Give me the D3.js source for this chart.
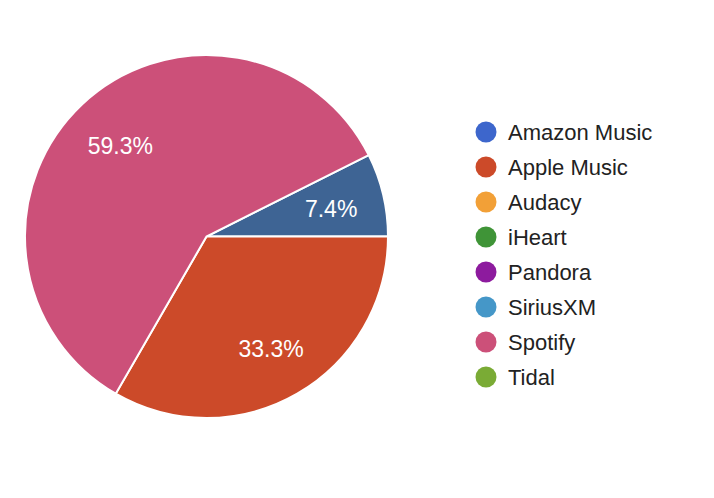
<!DOCTYPE html>
<html>
<head>
<meta charset="utf-8">
<script src="https://cdn.jsdelivr.net/npm/d3@7"></script>
<style>
  body { margin: 0; background: #fff; }
  text { font-family: "Liberation Sans", Arial, sans-serif; }
</style>
</head>
<body>
<div class="graph"></div>
<script>
// legend entries and their colours
const services = ["Amazon Music", "Apple Music", "Audacy", "iHeart", "Pandora", "SiriusXM", "Spotify", "Tidal"];
const legendColors = ["#3d66cc", "#cc4a29", "#f2a037", "#3f9437", "#8d1b9e", "#4597c8", "#cc5079", "#7aab35"];

// slices actually drawn (in drawing order, clockwise)
const slices = ["Amazon Music", "Apple Music", "Spotify"];
const sliceValues = [2, 9, 16];
const sliceColors = ["#3e6494", "#cc4a29", "#cc5079"];

let width = 714, height = 498;
let cx = 206.5, cy = 236.5, radius = 181.5;

let svg = d3.select(".graph").append("svg")
    .attr("width", width)
    .attr("height", height);

let total = d3.sum(sliceValues);
let startAngle = Math.PI / 2 - (sliceValues[0] / total) * 2 * Math.PI;

let pie = d3.pie()
    .sort(null)
    .startAngle(startAngle)
    .endAngle(startAngle + 2 * Math.PI)
    .value(d => d);

let arc = d3.arc().innerRadius(0).outerRadius(radius);
let labelArc = d3.arc().innerRadius(radius * 0.7).outerRadius(radius * 0.7);

let g = svg.append("g")
    .attr("transform", "translate(" + cx + "," + cy + ")");

let arcs = pie(sliceValues);

g.selectAll(".slice")
    .data(arcs)
    .enter().append("path")
    .attr("class", "slice")
    .attr("d", arc)
    .attr("fill", (d, i) => sliceColors[i])
    .attr("stroke", "#fff")
    .style("stroke-width", "2px");

g.selectAll(".label")
    .data(arcs)
    .enter().append("text")
    .attr("class", "label")
    .attr("transform", d => {
        let c = labelArc.centroid(d);
        return "translate(" + (c[0] + 1) + "," + (c[1] + 2) + ")";
    })
    .attr("text-anchor", "middle")
    .attr("dy", "0.36em")
    .attr("fill", "#fff")
    .style("font-size", "23px")
    .text(d => (d.value / total * 100).toFixed(1) + "%");

// legend
let legend = svg.append("g")
    .attr("transform", "translate(486,132)");

let rows = legend.selectAll(".row")
    .data(services)
    .enter().append("g")
    .attr("class", "row")
    .attr("transform", (d, i) => "translate(0," + (i * 35) + ")");

rows.append("circle")
    .attr("r", 10.5)
    .attr("fill", (d, i) => legendColors[i]);

rows.append("text")
    .attr("x", 22)
    .attr("dy", "0.36em")
    .attr("fill", "#222")
    .style("font-size", "22px")
    .text(d => d);
</script>
</body>
</html>
